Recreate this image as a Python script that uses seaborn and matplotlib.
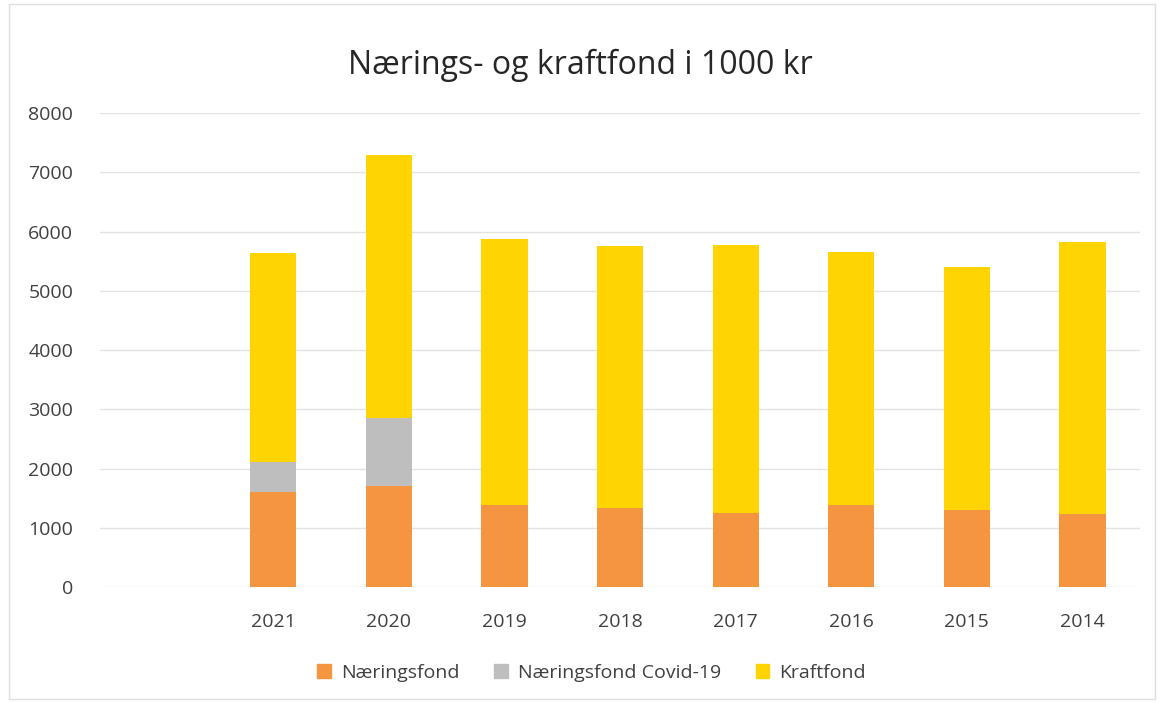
import matplotlib
matplotlib.use("Agg")
import matplotlib.pyplot as plt
import matplotlib.patches as mpatches
import seaborn as sns
import pandas as pd

years = ["", "2021", "2020", "2019", "2018", "2017", "2016", "2015", "2014"]
naeringsfond = [0, 1600, 1700, 1390, 1340, 1250, 1390, 1295, 1240]
covid = [0, 510, 1150, 0, 0, 0, 0, 0, 0]
kraftfond = [0, 3530, 4450, 4490, 4410, 4530, 4260, 4100, 4580]

series_names = ["Næringsfond", "Næringsfond Covid-19", "Kraftfond"]
colors = ["#F5953F", "#BEBEBE", "#FFD400"]
title = "Nærings- og kraftfond i 1000 kr"

sns.set_theme(style="white")
plt.rcParams["font.family"] = ["Open Sans", "DejaVu Sans"]

df = pd.DataFrame({"year": years, "n": naeringsfond, "c": covid, "k": kraftfond})
df["b2"] = df["n"] + df["c"]

fig = plt.figure(figsize=(11.6, 7.03), dpi=100)
ax = fig.add_axes([0.086, 0.165, 0.897, 0.674])

common = dict(data=df, x="year", order=years, width=0.4, saturation=1, ax=ax,
              linewidth=0, edgecolor="none", zorder=3)
sns.barplot(y="n", color=colors[0], **common)
sns.barplot(y="c", color=colors[1], bottom=df["n"].values, **common)
sns.barplot(y="k", color=colors[2], bottom=df["b2"].values, **common)

ax.set_ylim(0, 8000)
ax.set_yticks(range(0, 8001, 1000))
ax.set_xlim(-0.5, len(years) - 0.5)
ax.grid(axis="y", color="#E3E3E3", linewidth=1, zorder=0)
ax.set_axisbelow(True)
for s in ax.spines.values():
    s.set_visible(False)
ax.set_xlabel("")
ax.set_ylabel("")
ax.tick_params(axis="both", length=0, labelsize=14, colors="#404040")
ax.tick_params(axis="y", pad=19)
ax.tick_params(axis="x", pad=19)

fig.suptitle(title, y=0.93, fontsize=23, color="#262626")

handles = [mpatches.Patch(color=c, label=l) for c, l in zip(colors, series_names)]
fig.legend(handles=handles, loc="center", bbox_to_anchor=(0.51, 0.043), ncol=3,
           frameon=False, fontsize=14, handlelength=0.7, handleheight=0.7,
           columnspacing=1.8, handletextpad=0.5, labelcolor="#404040")

fig.patches.append(mpatches.Rectangle((0.008, 0.005), 0.988, 0.99, transform=fig.transFigure,
                                      fill=False, edgecolor="#E0E0E0", linewidth=1))

fig.savefig("out.png", dpi=100, facecolor="white")
